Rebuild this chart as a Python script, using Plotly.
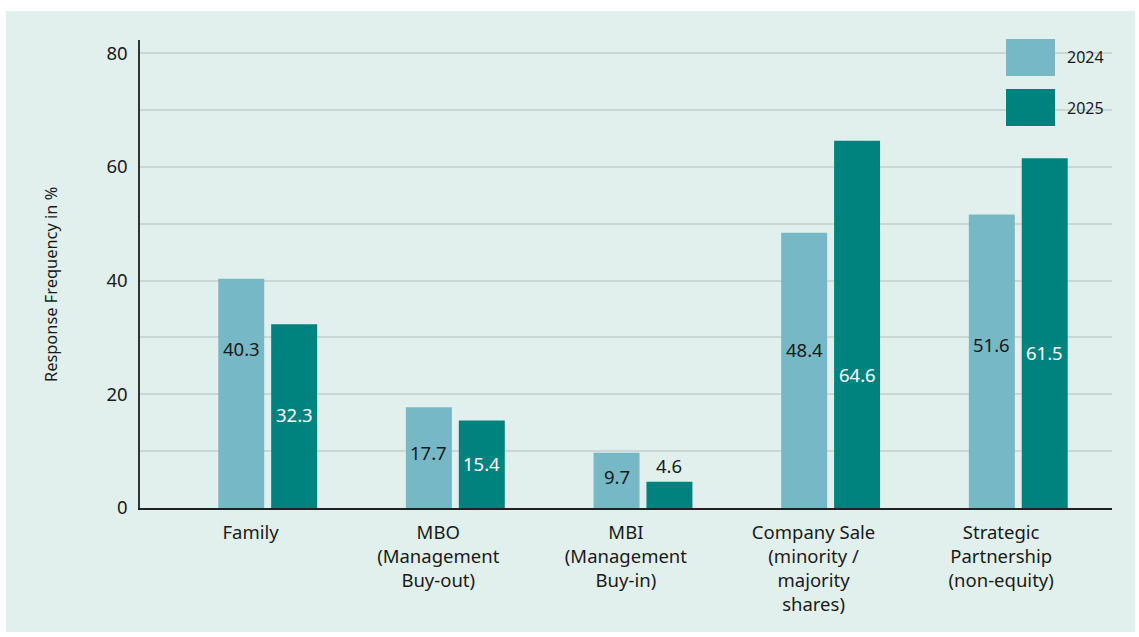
import plotly.graph_objects as go

categories = ["Family", "MBO<br>(Management<br>Buy-out)", "MBI<br>(Management<br>Buy-in)",
              "Company Sale<br>(minority /<br>majority<br>shares)",
              "Strategic<br>Partnership<br>(non-equity)"]
values_2024 = [40.3, 17.7, 9.7, 48.4, 51.6]
values_2025 = [32.3, 15.4, 4.6, 64.6, 61.5]
# vertical placement of the value labels (data units)
label_y_2024 = [28.1, 9.8, 5.6, 27.9, 28.8]
label_y_2025 = [16.5, 7.9, 7.4, 23.5, 27.4]
y_ticks = [0, 20, 40, 60, 80]

C24 = "#76b8c5"
C25 = "#00837f"
PANEL = "#e2f0ed"
TXT = "#1a1a1a"
FONT = "Noto Sans"

W, H = 1139, 637
L, R, T, B = 140, 27, 40, 129
pw, ph = W - L - R, H - T - B

def px_x(p):
    return (p - L) / pw

def px_y(p):
    return (H - B - p) / ph

xs = list(range(len(categories)))
bw = 0.245
fig = go.Figure()
fig.add_trace(go.Bar(x=xs, y=values_2024, width=bw, offset=-0.263,
                     marker=dict(color=C24, line_width=0), name="2024", showlegend=False))
fig.add_trace(go.Bar(x=xs, y=values_2025, width=bw, offset=0.019,
                     marker=dict(color=C25, line_width=0), name="2025", showlegend=False))

ann = []
for i, (v, ly) in enumerate(zip(values_2024, label_y_2024)):
    ann.append(dict(x=i - 0.263 + bw / 2, y=ly, xref="x", yref="y", text=f"{v:.1f}",
                    showarrow=False, xanchor="center", yanchor="middle",
                    font=dict(family=FONT, size=18.5, color=TXT)))
for i, (v, ly) in enumerate(zip(values_2025, label_y_2025)):
    col = "white" if ly < v else TXT
    ann.append(dict(x=i + 0.019 + bw / 2, y=ly, xref="x", yref="y", text=f"{v:.1f}",
                    showarrow=False, xanchor="center", yanchor="middle",
                    font=dict(family=FONT, size=18.5, color=col)))

# background panel and legend swatches
shapes = [
    dict(type="rect", xref="paper", yref="paper", layer="below",
         x0=px_x(6), x1=px_x(1135), y0=px_y(632), y1=px_y(11),
         fillcolor=PANEL, line_width=0),
    dict(type="rect", xref="paper", yref="paper",
         x0=px_x(1006), x1=px_x(1055), y0=px_y(76), y1=px_y(39),
         fillcolor=C24, line_width=0),
    dict(type="rect", xref="paper", yref="paper",
         x0=px_x(1006), x1=px_x(1055), y0=px_y(126), y1=px_y(89),
         fillcolor=C25, line_width=0),
]
ann.append(dict(x=px_x(1065), y=px_y(57.5), xref="paper", yref="paper", text="2024",
                showarrow=False, xanchor="left", yanchor="middle",
                font=dict(family=FONT, size=16, color=TXT)))
ann.append(dict(x=px_x(1065), y=px_y(107.5), xref="paper", yref="paper", text="2025",
                showarrow=False, xanchor="left", yanchor="middle",
                font=dict(family=FONT, size=16, color=TXT)))
# y-axis title
ann.append(dict(x=px_x(50), y=px_y(285), xref="paper", yref="paper",
                text="Response Frequency in %", textangle=-90, showarrow=False,
                xanchor="center", yanchor="middle",
                font=dict(family=FONT, size=16.4, color=TXT)))

fig.update_layout(
    width=W, height=H,
    margin=dict(l=L, r=R, t=T, b=B, pad=0),
    paper_bgcolor="white", plot_bgcolor="rgba(0,0,0,0)",
    font=dict(family=FONT, size=18.5, color=TXT),
    shapes=shapes, annotations=ann,
    xaxis=dict(range=[-0.68, 4.5], tickmode="array", tickvals=xs, ticktext=categories,
               showgrid=False, showline=True, linecolor="#222", linewidth=1.5,
               ticks="", zeroline=False, tickfont=dict(size=18.5),
               ticklabelstandoff=7, ticklabelshift=-17),
    yaxis=dict(range=[0, 82.3], tickmode="array", tickvals=list(range(0, 81, 10)),
               ticktext=[str(v) if v in y_ticks else "" for v in range(0, 81, 10)],
               showgrid=True, gridcolor="rgba(0,0,0,0.1)", gridwidth=1.5,
               showline=True, linecolor="#333", linewidth=1.5, zeroline=False,
               ticks="", ticklabelstandoff=7, layer="above traces",
               tickfont=dict(size=18.5)),
)

fig.write_html("out.html")
